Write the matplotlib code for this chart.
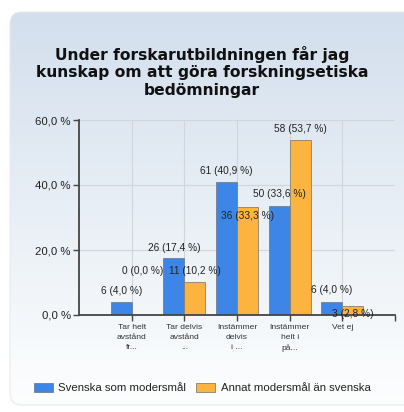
import numpy as np
import matplotlib
matplotlib.use('Agg')
import matplotlib.pyplot as plt
from matplotlib.patches import FancyBboxPatch, Patch
from matplotlib.colors import to_rgb

# ---- data ----
categories = ['Tar helt\navstånd\nfr...', 'Tar delvis\navstånd\n...',
              'Instämmer\ndelvis\ni ...', 'Instämmer\nhelt i\npå...', 'Vet ej']
series_names = ['Svenska som modersmål', 'Annat modersmål än svenska']
counts_sv = [6, 26, 61, 50, 6]
pct_sv = [4.0, 17.4, 40.9, 33.6, 4.0]
counts_other = [0, 11, 36, 58, 3]
pct_other = [0.0, 10.2, 33.3, 53.7, 2.8]
y_ticks = [0, 20, 40, 60]
title = 'Under forskarutbildningen får jag\nkunskap om att göra forskningsetiska\nbedömningar'

# label heights as rendered in the original (it nudges overlapping labels)
label_y_sv = [7.4, 20.7, 44.3, 37.1, 7.7]
label_y_other = [13.6, 13.6, 30.5, 57.1, 0.2]

BLUE = '#3d86e8'
ORANGE = '#fbb43f'
W, H = 404, 412

fig = plt.figure(figsize=(W / 100, H / 100), dpi=100)

# ---- background panel with vertical gradient ----
bg = fig.add_axes([0, 0, 1, 1])
bg.set_xlim(0, W)
bg.set_ylim(H, 0)
bg.axis('off')
panel = FancyBboxPatch((10, 12), 420, 393, boxstyle='round,pad=0,rounding_size=12',
                       facecolor='none', edgecolor='#e8eaed', lw=0.8, zorder=2)
bg.add_patch(panel)
top_c = np.array(to_rgb('#d3dfed'))
bot_c = np.array(to_rgb('#fdfefe'))
t = np.linspace(0, 1, 256)[:, None]
grad = (top_c * (1 - t) + bot_c * t)[:, None, :].repeat(2, axis=1)
im = bg.imshow(grad, extent=(10, 430, 405, 12), aspect='auto', zorder=1)
im.set_clip_path(panel)

fig.text(0.5, (H - 72) / H, title, ha='center', va='center', fontsize=11.2,
         fontweight='bold', family='DejaVu Sans', color='#111111', linespacing=1.22)

# ---- main axes ----
x0, x1, ytop, ybot = 79, 395, 120, 315
ax = fig.add_axes([x0 / W, (H - ybot) / H, (x1 - x0) / W, (ybot - ytop) / H])
ax.patch.set_alpha(0)
x = np.arange(1, len(categories) + 1)
bw = 0.4
ax.bar(x - bw / 2, pct_sv, bw, color=BLUE, edgecolor='#6f7f95', lw=0.6, zorder=3)
ax.bar(x + bw / 2, pct_other, bw, color=ORANGE, edgecolor='#8a8070', lw=0.6, zorder=3)

fs_val = 7.3
for i in range(len(categories)):
    ax.text(x[i] - bw / 2, label_y_sv[i], f'{counts_sv[i]} ({pct_sv[i]:.1f} %)'.replace('.', ','),
            ha='center', va='center', fontsize=fs_val, family='Liberation Sans',
            color='#222222', zorder=5)
    ax.text(x[i] + bw / 2, label_y_other[i], f'{counts_other[i]} ({pct_other[i]:.1f} %)'.replace('.', ','),
            ha='center', va='center', fontsize=fs_val, family='Liberation Sans',
            color='#222222', zorder=5)

ax.set_xlim(0, len(categories) + 1)
ax.set_ylim(0, 60)
ax.set_yticks(y_ticks)
ax.set_yticklabels([f'{v:.1f} %'.replace('.', ',') for v in y_ticks],
                   fontsize=8.2, family='Liberation Sans', color='#222222')
ax.set_xticks(x)
ax.set_xticklabels(categories, fontsize=6.1, family='Liberation Sans', color='#333333',
                   linespacing=1.55)
ax.set_xticks([len(categories) + 1], minor=True)
ax.tick_params(axis='y', length=4, width=1, color='#444444', pad=2)
ax.tick_params(axis='x', which='both', length=4, width=1, color='#444444', pad=2.5)
ax.grid(True, color='#d2d5d9', lw=0.8, zorder=0)
for s in ['top', 'right']:
    ax.spines[s].set_visible(False)
for s in ['left', 'bottom']:
    ax.spines[s].set_color('#444444')
    ax.spines[s].set_linewidth(1.3)
    ax.spines[s].set_zorder(4)

handles = [Patch(facecolor=BLUE, edgecolor='#6f7f95', lw=0.6),
           Patch(facecolor=ORANGE, edgecolor='#8a8070', lw=0.6)]
leg = fig.legend(handles, series_names, loc='center', bbox_to_anchor=(0.5, (H - 388) / H),
                 ncol=2, frameon=False, prop={'family': 'Liberation Sans', 'size': 8.2},
                 handlelength=1.7, handleheight=0.95, handletextpad=0.45, columnspacing=0.9)
for txt in leg.get_texts():
    txt.set_color('#222222')

fig.savefig('out.png', dpi=100)
